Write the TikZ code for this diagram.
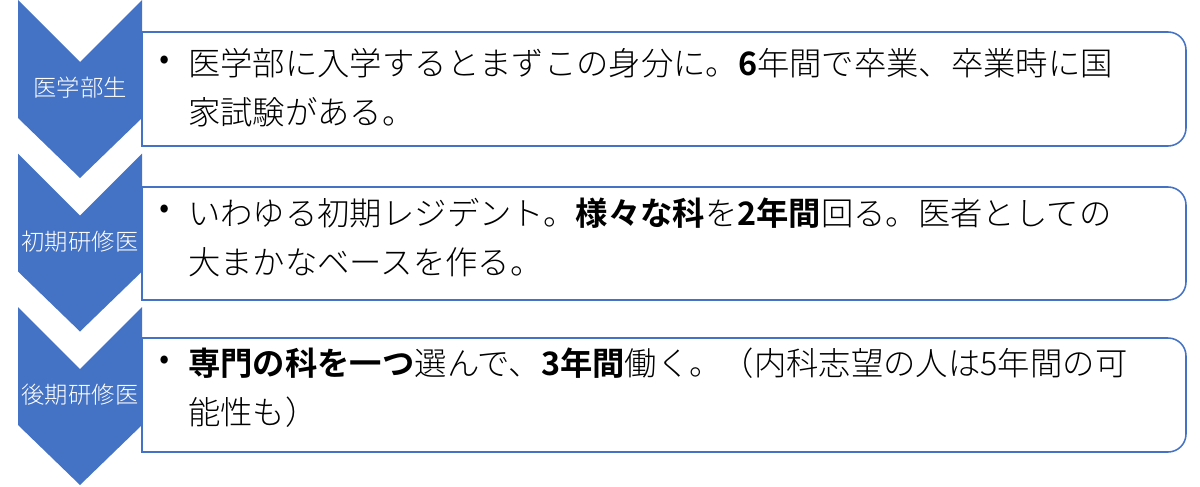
\documentclass[tikz,border=0pt]{standalone}
\usepackage{fontspec}
\newfontfamily\jpfont{Noto Sans CJK JP}[UprightFont={* Light}, BoldFont={* Bold}]
\usepackage{tikz}
\definecolor{officeblue}{HTML}{4472C4}

\begin{document}
\begin{tikzpicture}[x=0.025cm, y=-0.025cm,
		chevron/.style={fill=officeblue},
		stagebox/.style={draw=officeblue, line width=1.1pt, fill=white},
		stagelabel/.style={text=white, inner sep=0, font=\jpfont\fontsize{16.6pt}{20pt}\selectfont},
		bulletmark/.style={inner sep=0, font=\jpfont\fontsize{23pt}{34.86pt}\selectfont},
		stagetext/.style={anchor=west, align=left, inner sep=0, font=\jpfont\fontsize{23pt}{34.86pt}\selectfont}]
	\useasboundingbox (0,0) rectangle (1200,486);
	\foreach \top/\bottom in {32/146, 187/300, 338/452}{
		\draw[stagebox] (142,\top) -- (1168,\top) arc[start angle=-90, end angle=0, radius=18]
			-- (1186,\bottom-18) arc[start angle=0, end angle=90, radius=18] -- (142,\bottom) -- cycle;
	}
	\foreach \top/\name/\label in {0/med/医学部生, 153.5/junior/初期研修医, 307/senior/後期研修医}{
		\fill[chevron] (18,\top) -- (80,\top+62) -- (142,\top) -- (142,\top+118) -- (80,\top+178) -- (18,\top+118) -- cycle;
		\node[stagelabel] (\name) at (80,\top+88) {\label};
	}
	\node[bulletmark] (medbullet) at (165,63) {•};
	\node[stagetext] (medtext) at (188,87.5) {医学部に入学するとまずこの身分に。\textbf{6}年間で卒業、卒業時に国\\家試験がある。};
	\node[bulletmark] (juniorbullet) at (165,212) {•};
	\node[stagetext] (juniortext) at (188,237) {いわゆる初期レジデント。\textbf{様々な科}を\textbf{2年間}回る。医者としての\\大まかなベースを作る。};
	\node[bulletmark] (seniorbullet) at (165,363) {•};
	\node[stagetext] (seniortext) at (188,388) {\textbf{専門の科を一つ}選んで、\textbf{3年間}働く。（内科志望の人は5年間の可\\能性も）};
\end{tikzpicture}
\end{document}
